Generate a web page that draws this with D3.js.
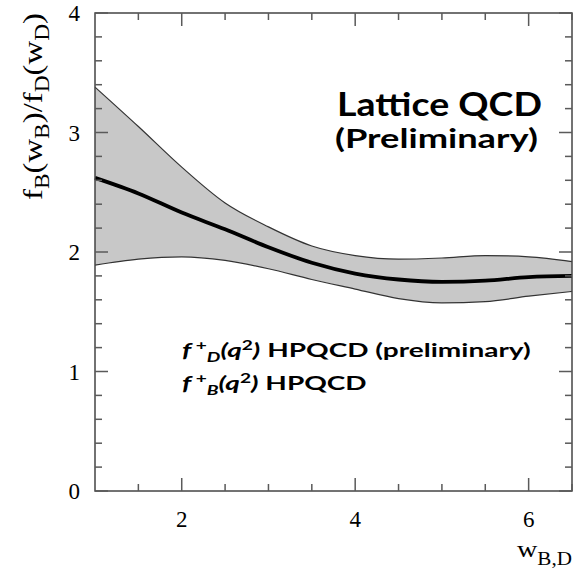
<!DOCTYPE html>
<html>
<head>
<meta charset="utf-8">
<script src="https://cdn.jsdelivr.net/npm/d3@7/dist/d3.min.js"></script>
<style>
  body { margin: 0; background: #fff; }
  svg { display: block; }
</style>
</head>
<body>
<svg id="chart" width="581" height="577"></svg>
<script>
// values
let wValues   = [1, 1.5, 2, 2.5, 3, 3.5, 4, 4.5, 5, 5.5, 6, 6.5];
let ratioUp   = [3.38, 3.05, 2.71, 2.41, 2.21, 2.05, 1.97, 1.94, 1.95, 1.97, 1.96, 1.92];
let ratioMid  = [2.62, 2.49, 2.33, 2.19, 2.04, 1.91, 1.82, 1.77, 1.75, 1.76, 1.79, 1.80];
let ratioLow  = [1.89, 1.94, 1.96, 1.93, 1.86, 1.77, 1.69, 1.61, 1.575, 1.585, 1.63, 1.67];
let xMajor = [2, 4, 6];
let xMinor = [1.5, 2.5, 3, 3.5, 4.5, 5, 5.5, 6.5];
let yMajor = [0, 1, 2, 3, 4];

let svg = d3.select('#chart');
let pLeft = 95, pRight = 572, pTop = 13, pBottom = 491;

let x = d3.scaleLinear().domain([1, 6.5]).range([pLeft, pRight]);
let y = d3.scaleLinear().domain([0, 4]).range([pBottom, pTop]);

let yMinor = d3.range(0, 4.01, 0.2).filter(v => Math.abs(v - Math.round(v)) > 0.01);

let rows = wValues.map((w, i) => ({w: w, lo: ratioLow[i], mid: ratioMid[i], hi: ratioUp[i]}));

// band
let area = d3.area()
    .x(d => x(d.w))
    .y0(d => y(d.lo))
    .y1(d => y(d.hi))
    .curve(d3.curveMonotoneX);

svg.append('path')
    .datum(rows)
    .attr('d', area)
    .style('fill', '#c8c8c8')
    .style('stroke', 'none');

let edge = (key) => d3.line().x(d => x(d.w)).y(d => y(d[key])).curve(d3.curveMonotoneX);

['lo', 'hi'].forEach(function (k) {
    svg.append('path')
        .datum(rows)
        .attr('d', edge(k))
        .style('fill', 'none')
        .style('stroke', '#333')
        .style('stroke-width', 1.2);
});

svg.append('path')
    .datum(rows)
    .attr('d', edge('mid'))
    .style('fill', 'none')
    .style('stroke', '#000')
    .style('stroke-width', 3.8);

// frame
svg.append('rect')
    .attr('x', pLeft).attr('y', pTop)
    .attr('width', pRight - pLeft).attr('height', pBottom - pTop)
    .style('fill', 'none')
    .style('stroke', '#444')
    .style('stroke-width', 1.5);

// ticks pointing inward on all four sides, as thin filled bars
let xTicks = xMajor.map(v => ({v: v, len: 13})).concat(xMinor.map(v => ({v: v, len: 7})));
let yTicks = yMajor.map(v => ({v: v, len: 13})).concat(yMinor.map(v => ({v: v, len: 7})));
let tickG = svg.append('g').attr('fill', '#5a5a5a');

tickG.selectAll('rect.xb').data(xTicks).enter().append('rect')
    .attr('x', d => x(d.v) - 0.75).attr('y', d => pBottom - d.len)
    .attr('width', 1.5).attr('height', d => d.len);
tickG.selectAll('rect.xt').data(xTicks).enter().append('rect')
    .attr('x', d => x(d.v) - 0.75).attr('y', pTop)
    .attr('width', 1.5).attr('height', d => d.len);
tickG.selectAll('rect.yl').data(yTicks).enter().append('rect')
    .attr('x', pLeft).attr('y', d => y(d.v) - 0.75)
    .attr('width', d => d.len).attr('height', 1.5);
tickG.selectAll('rect.yr').data(yTicks).enter().append('rect')
    .attr('x', d => pRight - d.len).attr('y', d => y(d.v) - 0.75)
    .attr('width', d => d.len).attr('height', 1.5);

// tick labels
let serif = '"Liberation Serif", "Times New Roman", serif';
svg.append('g').selectAll('text')
    .data(yMajor)
    .enter().append('text')
    .attr('x', pLeft - 15)
    .attr('y', d => y(d) + 8)
    .attr('text-anchor', 'end')
    .style('font-family', serif)
    .style('font-size', '23px')
    .text(d => d);

svg.append('g').selectAll('text')
    .data(xMajor)
    .enter().append('text')
    .attr('x', d => x(d))
    .attr('y', pBottom + 36)
    .attr('text-anchor', 'middle')
    .style('font-family', serif)
    .style('font-size', '23px')
    .text(d => d);

// stretch a text horizontally (in its own frame) so it spans `width`, anchored at x0
function fitWidth(sel, x0, width) {
    let w = sel.node().getBBox().width;
    let s = width / w;
    sel.attr('transform', (sel.attr('transform') || '') + ` translate(${x0},0) scale(${s},1) translate(${-x0},0)`);
    return s;
}

// axis titles
let yTitle = svg.append('text')
    .attr('transform', 'translate(42,200) rotate(-90)')
    .attr('x', 0).attr('y', 0)
    .style('font-family', serif)
    .style('font-size', '28px');
yTitle.append('tspan').text('f');
yTitle.append('tspan').attr('dy', 7).style('font-size', '20px').text('B');
yTitle.append('tspan').attr('dy', -7).text('(w');
yTitle.append('tspan').attr('dy', 7).style('font-size', '20px').text('B');
yTitle.append('tspan').attr('dy', -7).text(')/f');
yTitle.append('tspan').attr('dy', 7).style('font-size', '20px').text('D');
yTitle.append('tspan').attr('dy', -7).text('(w');
yTitle.append('tspan').attr('dy', 7).style('font-size', '20px').text('D');
yTitle.append('tspan').attr('dy', -7).text(')');
fitWidth(yTitle, 0, 187);

let xTitle = svg.append('text')
    .attr('x', 517)
    .attr('y', 557)
    .style('font-family', serif)
    .style('font-size', '24px');
xTitle.append('tspan').text('w');
xTitle.append('tspan').attr('dy', 8).style('font-size', '18px').text('B,D');
fitWidth(xTitle, 517, 55);

// annotations
let sans = 'Lato, "Open Sans", sans-serif';
let t1 = svg.append('text')
    .attr('x', 337).attr('y', 116)
    .style('font-family', sans)
    .style('font-weight', 'bold')
    .style('font-size', '33px')
    .text('Lattice QCD');
fitWidth(t1, 337, 205);
let t2 = svg.append('text')
    .attr('x', 335).attr('y', 148)
    .style('font-family', sans)
    .style('font-weight', 'bold')
    .style('font-size', '27.5px')
    .text('(Preliminary)');
fitWidth(t2, 335, 203);

function formLine(yPos, sub, rest) {
    let t = svg.append('text')
        .attr('x', 182).attr('y', yPos)
        .style('font-family', sans)
        .style('font-weight', 'bold')
        .style('font-size', '19px');
    t.append('tspan').style('font-style', 'italic').text('f');
    t.append('tspan').attr('dx', 3).attr('dy', -7).style('font-size', '13px').text('+');
    t.append('tspan').attr('dy', 12).style('font-size', '13px').style('font-style', 'italic').text(sub);
    t.append('tspan').attr('dy', -5).style('font-style', 'italic').text('(q');
    t.append('tspan').attr('dy', -7).style('font-size', '13px').text('2');
    t.append('tspan').attr('dy', 7).style('font-style', 'italic').text(')');
    t.append('tspan').text(' ' + rest);
    return t;
}
let line1 = formLine(357, 'D', 'HPQCD (preliminary)');
let line2 = formLine(390, 'B', 'HPQCD');
let s1 = fitWidth(line1, 182, 349);
line2.attr('transform', `translate(182,0) scale(${s1},1) translate(-182,0)`);
</script>
</body>
</html>
